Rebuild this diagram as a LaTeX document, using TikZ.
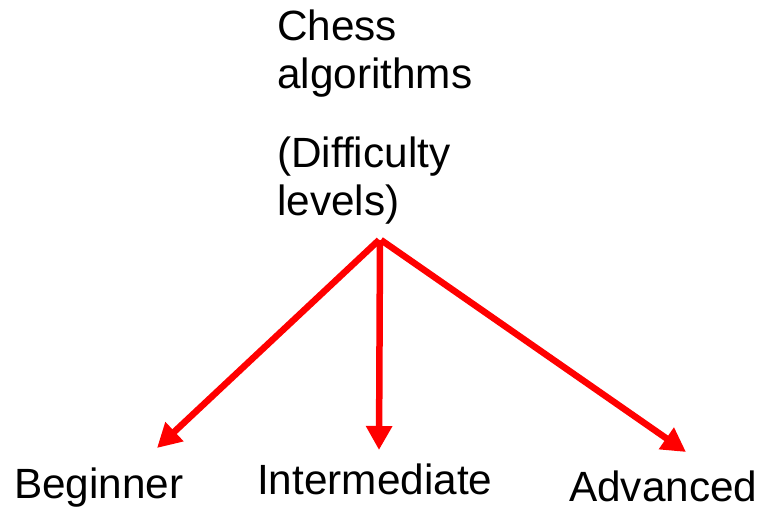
\documentclass[tikz,border=0pt]{standalone}
\usepackage{fontspec}
\setmainfont{Liberation Sans}
\usetikzlibrary{arrows.meta}
\begin{document}
\begin{tikzpicture}[x=1pt,y=-1pt,
  lbl/.style={inner sep=0pt,anchor=base west,font=\fontsize{42.3}{48}\selectfont},
  arr/.style={draw=red,line width=6.5pt,-{Triangle[length=24pt,width=25pt]}}]
\useasboundingbox (0,0) rectangle (762,510);
\node[lbl] (l1) at (277,41) {Chess};
\node[lbl] (l2) at (277,89) {algorithms};
\node[lbl] (l3) at (277,168) {(Difficulty};
\node[lbl] (l4) at (277,216) {levels)};
\coordinate (top) at (380,240);
\coordinate (t1) at (157,448);
\coordinate (t2) at (379,450);
\coordinate (t3) at (686,452);
\node[lbl] (b) at (14,498) {Beginner};
\node[lbl] (i) at (257,494) {Intermediate};
\node[lbl] (a) at (569,501) {Advanced};
\draw[arr] ([xshift=-1pt]top) -- (t1);
\draw[arr] (top) -- (t2);
\draw[arr] ([xshift=1pt]top) -- (t3);
\end{tikzpicture}
\end{document}
